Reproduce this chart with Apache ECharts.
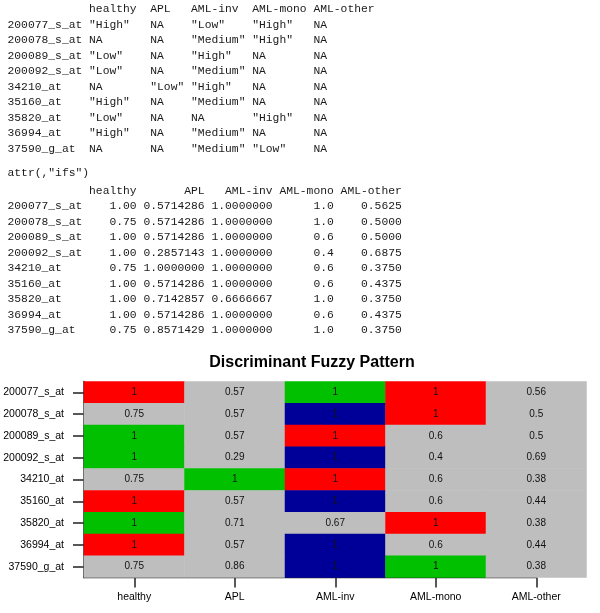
<!DOCTYPE html>
<html>
<head>
<meta charset="utf-8">
<script src="https://cdn.jsdelivr.net/npm/echarts@6/dist/echarts.min.js"></script>
<style>
html,body{margin:0;padding:0;background:#fff;}
#chart{width:600px;height:613px;}
</style>
</head>
<body>
<div id="chart"></div>
<script>
// ---- data ----
const probes = ['200077_s_at','200078_s_at','200089_s_at','200092_s_at','34210_at','35160_at','35820_at','36994_at','37590_g_at'];
const groups = ['healthy','APL','AML-inv','AML-mono','AML-other'];
const levels = [
  ['High', null, 'Low', 'High', null],
  [null, null, 'Medium', 'High', null],
  ['Low', null, 'High', null, null],
  ['Low', null, 'Medium', null, null],
  [null, 'Low', 'High', null, null],
  ['High', null, 'Medium', null, null],
  ['Low', null, null, 'High', null],
  ['High', null, 'Medium', null, null],
  [null, null, 'Medium', 'Low', null]
];
const ifs = [
  [1.00, 0.5714286, 1.0000000, 1.0, 0.5625],
  [0.75, 0.5714286, 1.0000000, 1.0, 0.5000],
  [1.00, 0.5714286, 1.0000000, 0.6, 0.5000],
  [1.00, 0.2857143, 1.0000000, 0.4, 0.6875],
  [0.75, 1.0000000, 1.0000000, 0.6, 0.3750],
  [1.00, 0.5714286, 1.0000000, 0.6, 0.4375],
  [1.00, 0.7142857, 0.6666667, 1.0, 0.3750],
  [1.00, 0.5714286, 1.0000000, 0.6, 0.4375],
  [0.75, 0.8571429, 1.0000000, 1.0, 0.3750]
];
const attrLine = 'attr(,"ifs")';
const chartTitle = 'Discriminant Fuzzy Pattern';

// ---- formatting / style ----
const levelColor = { High: '#FF0000', Low: '#00C000', Medium: '#000099' };
const naColor = '#BEBEBE';
const t1Widths = [8, 5, 8, 8, 9];
const t2Widths = [7, 9, 9, 8, 9];
const t2Digits = [2, 7, 7, 1, 4];
const monoFont = '11.33px "Liberation Mono", monospace';

function t1Header() {
  return ' '.repeat(11) + groups.map((g, j) => ' ' + g.padEnd(t1Widths[j])).join('');
}
function t1Row(i) {
  return probes[i].padEnd(11) + levels[i].map((v, j) => ' ' + (v ? '"' + v + '"' : 'NA').padEnd(t1Widths[j])).join('');
}
function t2Header() {
  return ' '.repeat(11) + groups.map((g, j) => ' ' + g.padStart(t2Widths[j])).join('');
}
function t2Row(i) {
  return probes[i].padEnd(11) + ifs[i].map((v, j) => ' ' + v.toFixed(t2Digits[j]).padStart(t2Widths[j])).join('');
}

const textX = 7.5;
const lines = [];
lines.push({ t: t1Header(), y: 9.3 });
probes.forEach((p, i) => lines.push({ t: t1Row(i), y: 24.8 + i * 15.5 }));
lines.push({ t: attrLine, y: 173.3 });
lines.push({ t: t2Header(), y: 190.7 });
probes.forEach((p, i) => lines.push({ t: t2Row(i), y: 206.2 + i * 15.5 }));

const textGraphics = lines.map(l => ({
  type: 'text',
  x: textX,
  y: l.y,
  silent: true,
  style: { text: l.t, font: monoFont, fill: '#1a1a1a', textVerticalAlign: 'middle', textAlign: 'left' }
}));
textGraphics.push({
  type: 'text', x: 312, y: 363, silent: true,
  style: { text: chartTitle, font: 'bold 16px "Liberation Sans", Arial, sans-serif', fill: '#000', textAlign: 'center', textVerticalAlign: 'middle' }
});

const heatData = [];
probes.forEach((p, i) => {
  groups.forEach((g, j) => {
    const lv = levels[i][j];
    heatData.push({ value: [j, i, ifs[i][j]], itemStyle: { color: lv ? levelColor[lv] : naColor } });
  });
});

const gridLeft = 84, gridRight = 13.5, gridTop = 381.5, gridBottom = 35.5;
const axisColor = '#222';
const labelFont = '"Liberation Sans", Arial, sans-serif';

const chart = echarts.init(document.getElementById('chart'), null, { renderer: 'canvas' });
chart.setOption({
  animation: false,
  backgroundColor: '#fff',
  grid: { left: gridLeft, right: gridRight, top: gridTop, bottom: gridBottom, containLabel: false },
  xAxis: {
    type: 'category', data: groups, boundaryGap: true,
    axisLine: { show: false },
    axisTick: { show: true, alignWithLabel: true, length: 10, lineStyle: { color: axisColor, width: 1.5 } },
    axisLabel: { color: '#000', fontSize: 10.5, fontFamily: labelFont, margin: 14 },
    splitLine: { show: false }
  },
  yAxis: {
    type: 'category', data: probes, inverse: true, boundaryGap: true,
    axisLine: { show: true, lineStyle: { color: axisColor, width: 1.5 } },
    axisTick: { show: true, alignWithLabel: true, length: 11, lineStyle: { color: axisColor, width: 1.5 } },
    axisLabel: { color: '#000', fontSize: 10.5, fontFamily: labelFont, margin: 20 },
    splitLine: { show: false }
  },
  series: [{
    type: 'heatmap',
    data: heatData,
    label: {
      show: true, color: '#111', fontSize: 10, fontFamily: labelFont,
      formatter: p => String(Math.round(p.value[2] * 100) / 100)
    },
    itemStyle: { borderWidth: 0 },
    emphasis: { disabled: true }
  }],
  graphic: textGraphics
});

// bottom axis line from grid left edge to last tick (R style)
const xLast = chart.convertToPixel({ xAxisIndex: 0 }, groups[groups.length - 1]);
const yBot = 613 - gridBottom;
chart.setOption({
  graphic: textGraphics.concat([{
    type: 'line', silent: true,
    shape: { x1: gridLeft - 0.5, y1: yBot, x2: xLast + 0.75, y2: yBot },
    style: { stroke: axisColor, lineWidth: 1.5 }
  }])
});
</script>
</body>
</html>
